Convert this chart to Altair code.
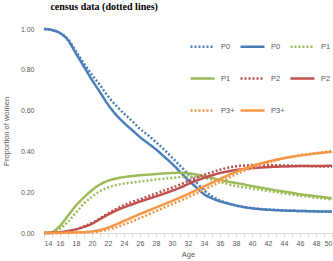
import altair as alt
import pandas as pd

ages = list(range(14, 51))

# Model estimates (solid lines)
p0_model = [1.0, 0.995, 0.98, 0.945, 0.88, 0.815, 0.75, 0.69, 0.63, 0.58, 0.54, 0.505, 0.47,
            0.44, 0.41, 0.375, 0.34, 0.30, 0.26, 0.225, 0.19, 0.17, 0.155, 0.145, 0.135, 0.127,
            0.121, 0.117, 0.114, 0.112, 0.11, 0.109, 0.108, 0.107, 0.106, 0.106, 0.105]
p1_model = [0.0, 0.005, 0.035, 0.085, 0.135, 0.175, 0.21, 0.238, 0.256, 0.267, 0.274, 0.279,
            0.283, 0.286, 0.289, 0.292, 0.294, 0.295, 0.293, 0.287, 0.279, 0.27, 0.26, 0.252,
            0.245, 0.238, 0.23, 0.223, 0.216, 0.209, 0.203, 0.197, 0.19, 0.185, 0.18, 0.175, 0.17]
p2_model = [0.0, 0.001, 0.004, 0.01, 0.018, 0.03, 0.045, 0.068, 0.09, 0.11, 0.126, 0.14, 0.154,
            0.167, 0.18, 0.193, 0.207, 0.222, 0.24, 0.256, 0.27, 0.283, 0.294, 0.302, 0.309,
            0.314, 0.318, 0.321, 0.323, 0.325, 0.326, 0.327, 0.328, 0.328, 0.329, 0.329, 0.33]
p3_model = [0.0, 0.0, 0.001, 0.002, 0.003, 0.004, 0.008, 0.015, 0.027, 0.042, 0.059, 0.076,
            0.093, 0.109, 0.125, 0.141, 0.157, 0.174, 0.191, 0.209, 0.228, 0.247, 0.265, 0.283,
            0.3, 0.315, 0.328, 0.34, 0.35, 0.359, 0.367, 0.374, 0.38, 0.385, 0.39, 0.394, 0.398]

# Census data (dotted lines)
p0_census = [1.0, 0.995, 0.98, 0.95, 0.89, 0.83, 0.775, 0.725, 0.67, 0.625, 0.585, 0.55, 0.51,
             0.48, 0.445, 0.41, 0.37, 0.33, 0.29, 0.25, 0.21, 0.18, 0.16, 0.145, 0.135, 0.128,
             0.122, 0.118, 0.115, 0.113, 0.111, 0.109, 0.108, 0.107, 0.106, 0.105, 0.104]
p1_census = [0.0, 0.003, 0.02, 0.055, 0.1, 0.145, 0.178, 0.205, 0.223, 0.235, 0.242, 0.247,
             0.252, 0.257, 0.262, 0.266, 0.27, 0.274, 0.276, 0.275, 0.27, 0.262, 0.252, 0.24,
             0.23, 0.224, 0.218, 0.212, 0.206, 0.2, 0.194, 0.188, 0.183, 0.178, 0.173, 0.169, 0.165]
p2_census = [0.0, 0.001, 0.003, 0.008, 0.018, 0.033, 0.05, 0.072, 0.095, 0.117, 0.137, 0.152,
             0.165, 0.18, 0.194, 0.208, 0.222, 0.237, 0.255, 0.27, 0.285, 0.298, 0.31, 0.32,
             0.327, 0.331, 0.333, 0.333, 0.333, 0.332, 0.331, 0.33, 0.329, 0.328, 0.327, 0.326, 0.325]
p3_census = [0.0, 0.0, 0.0, 0.001, 0.002, 0.003, 0.004, 0.009, 0.017, 0.028, 0.042, 0.057,
             0.073, 0.09, 0.107, 0.124, 0.141, 0.158, 0.175, 0.193, 0.212, 0.231, 0.25, 0.269,
             0.288, 0.305, 0.32, 0.334, 0.346, 0.357, 0.366, 0.374, 0.381, 0.387, 0.392, 0.397, 0.401]

series = {
    "P0 census": p0_census, "P0 model": p0_model,
    "P1 census": p1_census, "P1 model": p1_model,
    "P2 census": p2_census, "P2 model": p2_model,
    "P3+ census": p3_census, "P3+ model": p3_model,
}
order = list(series.keys())
colors = ["#4A7EBB", "#4A7EBB", "#9BBB59", "#9BBB59",
          "#C0504D", "#C0504D", "#F79646", "#F79646"]
dashes = [[2, 2], [1, 0]] * 4

rows = []
for name, vals in series.items():
    for a, v in zip(ages, vals):
        rows.append({"Age": a, "Proportion": v, "series": name})
df = pd.DataFrame(rows)

gray = "#595959"
axis_line = "#D9D9D9"

chart = alt.Chart(df).mark_line(strokeWidth=2.5, interpolate="monotone").encode(
    x=alt.X("Age:Q", scale=alt.Scale(domain=[14, 50], nice=False),
            axis=alt.Axis(values=ages, labelExpr="datum.value % 2 == 0 ? datum.label : ''",
                          title="Age", grid=False, domainColor=axis_line, tickColor=axis_line,
                          tickSize=4, labelPadding=2, titlePadding=4)),
    y=alt.Y("Proportion:Q", scale=alt.Scale(domain=[0, 1], nice=False),
            axis=alt.Axis(values=[0, 0.2, 0.4, 0.6, 0.8, 1.0], format=".2f",
                          title="Proportion of women", grid=False, domain=False,
                          ticks=False, labelPadding=10, titlePadding=10)),
    color=alt.Color("series:N", scale=alt.Scale(domain=order, range=colors),
                    legend=alt.Legend(title=None, orient="none", legendX=145, legendY=4,
                                      direction="horizontal", columns=3,
                                      symbolType="stroke", symbolSize=576,
                                      symbolStrokeWidth=2.5, columnPadding=0, rowPadding=13,
                                      labelOffset=5,
                                      labelExpr="split(datum.label, ' ')[0]")),
    strokeDash=alt.StrokeDash("series:N", scale=alt.Scale(domain=order, range=dashes),
                              legend=None),
    detail="series:N",
).properties(
    width=288, height=204,
    padding={"left": 44, "top": 29, "right": 1, "bottom": 28},
    autosize="none",
    title=alt.TitleParams("census data (dotted lines)", anchor="start", dx=48, offset=12,
                          font="Liberation Serif", fontSize=10, fontWeight="bold",
                          color="#000000"),
).configure_view(stroke=None).configure_axis(
    labelFont="Liberation Sans", labelFontSize=7, labelColor=gray,
    titleFont="Liberation Sans", titleFontSize=7.5, titleColor=gray, titleFontWeight="normal",
).configure_legend(
    labelFont="Liberation Sans", labelFontSize=7.5, labelColor=gray,
)

chart.save("out.html", embed_options={"renderer": "svg", "actions": False})
